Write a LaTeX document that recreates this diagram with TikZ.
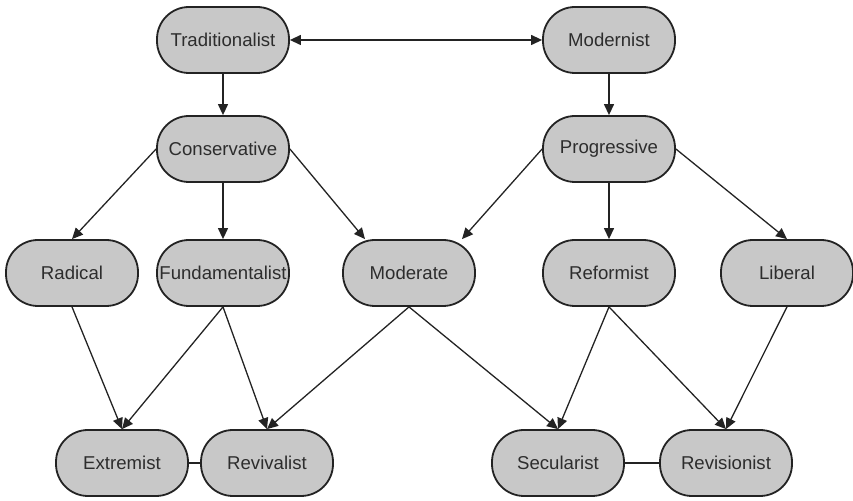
\documentclass[tikz,border=0pt]{standalone}
\usepackage{fontspec}
\setmainfont{Liberation Sans}
\usetikzlibrary{arrows.meta,calc}
\definecolor{nodefill}{RGB}{200,200,200}
\definecolor{edgecol}{RGB}{35,35,35}
\definecolor{txtcol}{RGB}{45,45,45}
\begin{document}
\begin{tikzpicture}[x=0.5pt,y=-0.5pt,
  box/.style={draw=edgecol, line width=0.9pt, fill=nodefill, rounded corners=16pt,
    minimum width=66pt, minimum height=33pt, inner sep=0pt,
    font=\fontsize{9.3}{11}\selectfont, text=txtcol},
  arr/.style={draw=edgecol, line width=0.65pt, -{Triangle[length=5.5pt,width=5pt]}},
  darr/.style={draw=edgecol, line width=0.65pt, {Triangle[length=5.5pt,width=5pt]}-{Triangle[length=5.5pt,width=5pt]}},
  lnk/.style={draw=edgecol, line width=0.65pt}]
\useasboundingbox (0,0) rectangle (853,501);
% row 1
\node[box] (trad) at (223,40) {Traditionalist};
\node[box] (mod) at (609,40) {Modernist};
% row 2
\node[box] (cons) at (223,149) {Conservative};
\node[box] (prog) at (609,149) {Progressive};
% row 3
\node[box] (rad) at (72,273) {Radical};
\node[box] (fund) at (223,273) {Fundamentalist};
\node[box] (moder) at (409,273) {Moderate};
\node[box] (ref) at (609,273) {Reformist};
\node[box] (lib) at (787,273) {Liberal};
% row 4
\node[box] (ext) at (122,463) {Extremist};
\node[box] (rev) at (267,463) {Revivalist};
\node[box] (sec) at (558,463) {Secularist};
\node[box] (revi) at (726,463) {Revisionist};
% connectors
\draw[darr] (trad.east) -- (mod.west);
\draw[arr] (trad.south) -- (cons.north);
\draw[arr] (mod.south) -- (prog.north);
\draw[arr] (cons.west) -- (rad.north);
\draw[arr] (cons.south) -- (fund.north);
\draw[arr] (cons.east) -- ($(moder.north)+(-44,0)$);
\draw[arr] (prog.west) -- ($(moder.north)+(53,0)$);
\draw[arr] (prog.south) -- (ref.north);
\draw[arr] (prog.east) -- (lib.north);
\draw[arr] (rad.south) -- (ext.north);
\draw[arr] (fund.south) -- (ext.north);
\draw[arr] (fund.south) -- (rev.north);
\draw[arr] (moder.south) -- (rev.north);
\draw[arr] (moder.south) -- (sec.north);
\draw[arr] (ref.south) -- (sec.north);
\draw[arr] (ref.south) -- (revi.north);
\draw[arr] (lib.south) -- (revi.north);
\draw[lnk] (ext.east) -- (rev.west);
\draw[lnk] (sec.east) -- (revi.west);
\end{tikzpicture}
\end{document}
